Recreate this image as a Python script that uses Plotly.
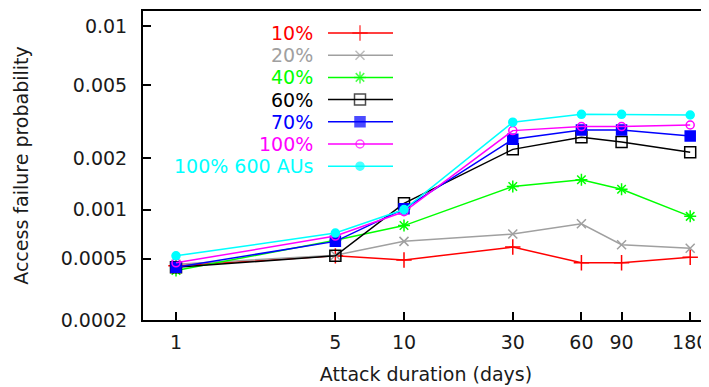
import math
import plotly.graph_objects as go

# ---- data ----
durations = [1, 5, 10, 30, 60, 90, 180]
series_names = ["10%", "20%", "40%", "60%", "70%", "100%", "100% 600 AUs"]
p10 = [0.00045, 0.00052, 0.00049, 0.00059, 0.00047, 0.00047, 0.00051]
p20 = [0.00046, 0.000525, 0.00064, 0.00071, 0.00082, 0.00061, 0.00058]
p40 = [0.00042, 0.00065, 0.00080, 0.00137, 0.00150, 0.00132, 0.00091]
p60 = [0.00044, 0.00052, 0.00109, 0.00224, 0.00262, 0.00246, 0.00216]
p70 = [0.00044, 0.00064, 0.00101, 0.00255, 0.00287, 0.00287, 0.00266]
p100 = [0.00047, 0.00069, 0.00097, 0.00285, 0.00300, 0.00300, 0.00306]
p100_600 = [0.00052, 0.00072, 0.00100, 0.00317, 0.00350, 0.00350, 0.00347]
x_ticks = [1, 5, 10, 30, 60, 90, 180]
y_ticks = [0.01, 0.005, 0.002, 0.001, 0.0005, 0.0002]
y_tick_labels = ["0.01", "0.005", "0.002", "0.001", "0.0005", "0.0002"]

# ---- styling ----
colors = ["#ff0000", "#a0a0a0", "#00ff00", "#000000", "#0000ff", "#ff00ff", "#00ffff"]
symbols = ["cross-thin-open", "x-thin-open", "asterisk-open", "square-open",
           "square", "circle-open", "circle"]
msizes = [11, 9, 10, 11, 10, 8, 8]
all_series = [p10, p20, p40, p60, p70, p100, p100_600]

FONT = "DejaVu Sans"
FS = 19
TXT = "#1a1a1a"

OFF = 8  # default page body margin of the html page
W, H = 709 - OFF, 387 - OFF
L, R, T, B = 143 - OFF, 709 - OFF, 11 - OFF, 320 - OFF  # plot area in figure px


def yscale(p):
    # the reference's probability axis (compressed toward small values)
    return -math.sqrt(-math.log10(p))


fig = go.Figure()
for name, vals, c, s, ms in zip(series_names, all_series, colors, symbols, msizes):
    fig.add_trace(go.Scatter(
        x=durations, y=[yscale(v) for v in vals], mode="lines+markers", name=name,
        line=dict(color=c, width=1.5),
        marker=dict(symbol=s, size=ms, color=c, line=dict(color=c, width=1.5)),
        showlegend=False))

# ---- custom gnuplot-style key (text, then sample), positions in reference px ----
def px_to_paper_x(px):
    return (px - OFF - L) / (R - L)


def px_to_paper_y(py):
    return (B - (py - OFF)) / (B - T)


row0, row_step = 33, 22.2
text_right, samp_x0, samp_x1, samp_xm = 315, 328, 393, 360
for i, (name, c, s, ms) in enumerate(zip(series_names, colors, symbols, msizes)):
    yy = px_to_paper_y(row0 + i * row_step)
    fig.add_annotation(x=px_to_paper_x(text_right), y=yy, xref="paper", yref="paper",
                       text=name, showarrow=False, xanchor="right", yanchor="middle",
                       font=dict(family=FONT, size=FS, color=c))
    fig.add_trace(go.Scatter(
        x=[px_to_paper_x(samp_x0), px_to_paper_x(samp_xm), px_to_paper_x(samp_x1)],
        y=[yy, yy, yy], xaxis="x2", yaxis="y2", mode="lines+markers",
        line=dict(color=c, width=1.5),
        marker=dict(symbol=s, size=[0, ms, 0], color=c, line=dict(color=c, width=1.5)),
        showlegend=False, hoverinfo="skip"))

# axis ranges (reference: x=1 at px 176, 228 px per decade; y fit of tick positions)
x_lo = -(176 - 143) / 228.0
x_hi = 1 + (709 - 404) / 228.0
y_lo = -(320 + 790.7) / 577.5
y_hi = -(11 + 790.7) / 577.5

fig.update_layout(
    width=W, height=H,
    margin=dict(l=L, r=W - R, t=T, b=H - B, autoexpand=False),
    paper_bgcolor="white", plot_bgcolor="white",
    font=dict(family=FONT, size=FS, color=TXT),
    xaxis=dict(type="log", range=[x_lo, x_hi], tickvals=x_ticks,
               ticktext=[str(v) for v in x_ticks], automargin=False,
               ticks="inside", ticklen=8, tickwidth=1.5, tickcolor="black",
               showline=True, linecolor="black", linewidth=2, mirror=True,
               showgrid=False, zeroline=False, ticklabelstandoff=4,
               title=dict(text="Attack duration (days)", standoff=16,
                          font=dict(family=FONT, size=FS, color=TXT))),
    yaxis=dict(range=[y_lo, y_hi], tickvals=[yscale(v) for v in y_ticks],
               ticktext=y_tick_labels, automargin=False,
               ticks="inside", ticklen=8, tickwidth=1.5, tickcolor="black",
               showline=True, linecolor="black", linewidth=2, mirror="ticks",
               showgrid=False, zeroline=False, ticklabelstandoff=10,
               title=dict(text="Access failure probability", standoff=27,
                          font=dict(family=FONT, size=FS, color=TXT))),
    xaxis2=dict(overlaying="x", range=[0, 1], visible=False, fixedrange=True),
    yaxis2=dict(overlaying="y", range=[0, 1], visible=False, fixedrange=True),
)

fig.write_html("out.html")
